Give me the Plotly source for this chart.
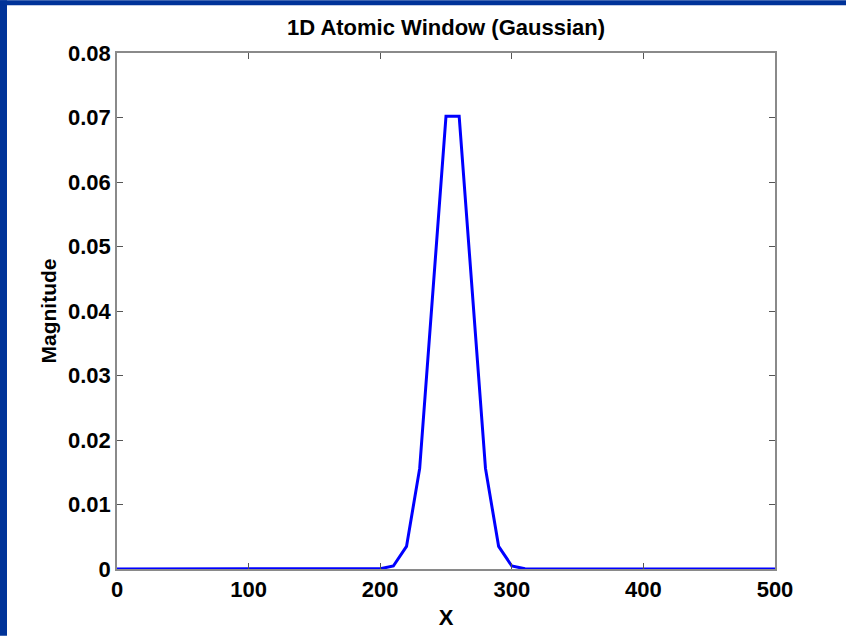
import plotly.graph_objects as go

# Data
x_vals = list(range(0, 510, 10))
peak_x = [200, 210, 220, 230, 240, 250, 260, 270, 280, 290, 300, 310]
peak_y = [0.00004, 0.00047, 0.0035, 0.0156, 0.0425, 0.0702,
          0.0702, 0.0425, 0.0156, 0.0035, 0.00047, 0.00004]
lookup = dict(zip(peak_x, peak_y))
y_vals = [lookup.get(v, 0.0) for v in x_vals]

x_ticks = [0, 100, 200, 300, 400, 500]
y_ticks = [0, 0.01, 0.02, 0.03, 0.04, 0.05, 0.06, 0.07, 0.08]
y_tick_text = ["0", "0.01", "0.02", "0.03", "0.04", "0.05", "0.06", "0.07", "0.08"]

W, H = 846, 638
ML, MR, MT, MB = 117, 71, 53, 67
PW, PH = W - ML - MR, H - MT - MB

FONT = "Liberation Sans, Arial, Helvetica, sans-serif"
BORDER = "#003399"

fig = go.Figure()
fig.add_trace(go.Scatter(x=x_vals, y=y_vals, mode="lines",
                         line=dict(color="#0000ff", width=3), showlegend=False))

def px_x(p):
    return (p - ML) / PW

def px_y(p):
    return (H - MB - p) / PH

shapes = [
    dict(type="rect", xref="paper", yref="paper", x0=px_x(0), x1=px_x(7),
         y0=px_y(H), y1=px_y(0), fillcolor=BORDER, line_width=0, layer="above"),
    dict(type="rect", xref="paper", yref="paper", x0=px_x(0), x1=px_x(W),
         y0=px_y(5), y1=px_y(0), fillcolor=BORDER, line_width=0, layer="above"),
]

axis_common = dict(showgrid=False, zeroline=False, showline=True,
                   linecolor="#8a8a8a", linewidth=1.5, mirror="ticks",
                   ticks="inside", ticklen=6, tickcolor="#555555", tickwidth=1,
                   tickfont=dict(family=FONT, size=22, color="black", weight="bold"))

fig.update_layout(
    width=W, height=H,
    margin=dict(l=ML, r=MR, t=MT, b=MB),
    paper_bgcolor="white", plot_bgcolor="white",
    title=dict(text="1D Atomic Window (Gaussian)", x=(ML + PW / 2) / W,
               xanchor="center", y=1 - 27 / H, yanchor="middle",
               font=dict(family=FONT, size=22, color="black", weight="bold")),
    xaxis=dict(range=[0, 500], tickvals=x_ticks, ticktext=[str(v) for v in x_ticks],
               title=dict(text="X", standoff=8,
                          font=dict(family=FONT, size=22, color="black", weight="bold")),
               **axis_common),
    yaxis=dict(range=[0, 0.08], tickvals=y_ticks, ticktext=y_tick_text,
               title=dict(text="Magnitude", standoff=6,
                          font=dict(family=FONT, size=21, color="black", weight="bold")),
               **axis_common),
    shapes=shapes,
)

fig.write_html("out.html")
